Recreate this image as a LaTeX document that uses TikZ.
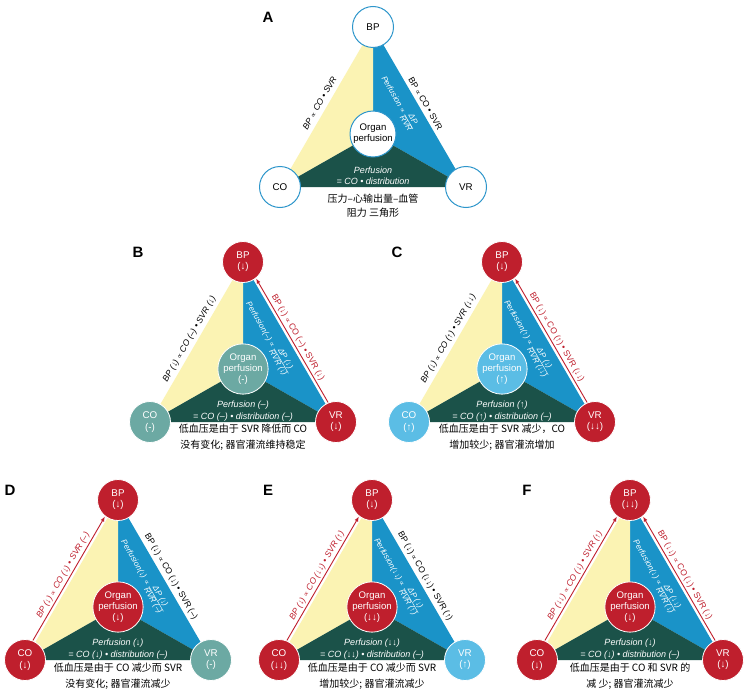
\documentclass[tikz,border=0pt]{standalone}
\usepackage{fontspec}
\setmainfont{Liberation Sans}
\newfontfamily\cjk{Noto Sans CJK SC}
\newfontfamily\djv{DejaVu Sans}
\usetikzlibrary{arrows.meta}
\definecolor{yel}{HTML}{FBF3B3}
\definecolor{blu}{HTML}{1A93C8}
\definecolor{grn}{HTML}{1B5249}
\definecolor{redc}{HTML}{BF1F2D}
\definecolor{tealc}{HTML}{6CA9A3}
\definecolor{lblu}{HTML}{5BBDE5}
\definecolor{ring}{HTML}{2E96CB}
\newcommand{\pr}{{\djv\fontsize{7}{8}\selectfont ∝}}
\newcommand{\frc}[2]{{\renewcommand{\arraystretch}{0.85}\begin{tabular}[c]{@{}c@{}}#1\\\hline #2\end{tabular}}}
\newcommand{\basetri}{%
  \fill[blu] (0,0) -- (0,107) -- (93,160) -- cycle;
  \fill[yel] (0,0) -- (-93,160) -- (0,107) -- cycle;
  \fill[grn] (-93,160) -- (0,107) -- (93,160) -- cycle;
}
\tikzset{
  vtx/.style={circle, minimum size=41pt, inner sep=0pt, align=center, font=\fontsize{9.8}{11.2}\selectfont, draw=white, line width=0.8pt},
  wv/.style={vtx, fill=white, draw=ring, line width=1pt},
  rv/.style={vtx, fill=redc, text=white},
  tv/.style={vtx, fill=tealc, text=white},
  bv/.style={vtx, fill=lblu, text=white},
  orgc/.style={minimum size=46pt, font=\fontsize{9.6}{11.2}\selectfont},
  lblL/.style={inner sep=0pt, rotate=60, font=\itshape\fontsize{8.6}{9.5}\selectfont},
  lblR/.style={inner sep=0pt, rotate=-60, font=\fontsize{8.6}{9.5}\selectfont},
  redarr/.style={draw=redc, line width=0.9pt, -{Latex[length=5pt,width=4pt]}},
  gtxt/.style={text=white, align=center, font=\itshape\fontsize{9}{11.5}\selectfont},
  frm/.style={text=white, rotate=-60, inner sep=0pt, font=\itshape\fontsize{8}{9}\selectfont},
  captxt/.style={align=center, font=\cjk\fontsize{10}{16.5}\selectfont},
  plet/.style={font=\bfseries\fontsize{15}{15}\selectfont}
}
\begin{document}
\begin{tikzpicture}[x=1pt,y=-1pt]
\fill[white] (0,0) rectangle (752,693);
\useasboundingbox (0,0) rectangle (752,693);
% ---------- A ----------
\node[plet] (letA) at (268,17) {A};
\begin{scope}[shift={(373,27)}]
\basetri
\node[wv] (aBP) at (0,0) {BP};
\node[wv] (aCO) at (-93,160) {CO};
\node[wv] (aVR) at (93,160) {VR};
\node[wv,orgc] (aOR) at (0,107) {Organ\\perfusion};
\node[lblL] (aL) at (-53.4,76) {BP \pr\ CO • SVR};
\node[lblR] (aR) at (52.5,76.5) {BP \pr\ CO • SVR};
\node[frm] (aF) at (25,76) {Perfusion \pr\ \frc{ΔP}{RVR}};
\node[gtxt] (aG) at (0,149) {Perfusion\\= CO • distribution};
\node[captxt, font=\cjk\fontsize{10}{14}\selectfont] (aC) at (0,179) {压力–心输出量–血管\\阻力 三角形};
\end{scope}
% ---------- B ----------
\node[plet] (letB) at (138,252) {B};
\begin{scope}[shift={(243,262)}]
\basetri
\node[rv] (bBP) at (0,0) {BP\\(↓)};
\node[tv] (bCO) at (-93,160) {CO\\(-)};
\node[rv] (bVR) at (93,160) {VR\\(↓)};
\node[tv,orgc] (bOR) at (0,107) {Organ\\perfusion\\(-)};
\draw[redarr, transform canvas={shift={(2.6pt,1.5pt)}}] (bVR) -- (bBP);
\node[lblL] (bL) at (-53.4,77) {BP (↓) \pr\ CO (–) • SVR (↓)};
\node[lblR, text=redc] (bR) at (54.8,75.5) {BP (↓) \pr\ CO (–) • SVR (↓)};
\node[frm] (bF) at (25,76) {Perfusion(–) \pr\ \frc{ΔP (↓)}{RVR (↓)}};
\node[gtxt] (bG) at (0,149) {Perfusion (–)\\= CO (–) • distribution (–)};
\node[captxt] (bC) at (0,175) {低血压是由于 SVR 降低而 CO\\没有变化; 器官灌流维持稳定};
\end{scope}
% ---------- C ----------
\node[plet] (letC) at (397,252) {C};
\begin{scope}[shift={(502,262)}]
\basetri
\node[rv] (cBP) at (0,0) {BP\\(↓)};
\node[bv] (cCO) at (-93,160) {CO\\(↑)};
\node[rv] (cVR) at (93,160) {VR\\(↓↓)};
\node[bv,orgc] (cOR) at (0,107) {Organ\\perfusion\\(↑)};
\draw[redarr, transform canvas={shift={(2.6pt,1.5pt)}}] (cVR) -- (cBP);
\node[lblL] (cL) at (-53.4,77) {BP (↓) \pr\ CO (↑) • SVR (↓↓)};
\node[lblR, text=redc] (cR) at (54.8,75.5) {BP (↓) \pr\ CO (↑) • SVR (↓↓)};
\node[frm] (cF) at (25,76) {Perfusion(↑) \pr\ \frc{ΔP (↓)}{RVR (↓↓)}};
\node[gtxt] (cG) at (0,149) {Perfusion (↑)\\= CO (↑) • distribution (–)};
\node[captxt] (cC) at (0,175) {低血压是由于 SVR 减少，CO\\增加较少; 器官灌流增加};
\end{scope}
% ---------- D ----------
\node[plet] (letD) at (10,490) {D};
\begin{scope}[shift={(118,500)}]
\basetri
\node[rv] (dBP) at (0,0) {BP\\(↓)};
\node[rv] (dCO) at (-93,160) {CO\\(↓)};
\node[tv] (dVR) at (93,160) {VR\\(-)};
\node[rv,orgc] (dOR) at (0,107) {Organ\\perfusion\\(↓)};
\draw[redarr, transform canvas={shift={(-2.6pt,1.5pt)}}] (dCO) -- (dBP);
\node[lblL, text=redc] (dL) at (-54.8,75.5) {BP (↓) \pr\ CO (↓) • SVR (–)};
\node[lblR] (dR) at (53,76.5) {BP (↓) \pr\ CO (↓) • SVR (–)};
\node[frm] (dF) at (25,76) {Perfusion(↓) \pr\ \frc{ΔP (↓)}{RVR (–)}};
\node[gtxt] (dG) at (0,149) {Perfusion (↓)\\= CO (↓) • distribution (–)};
\node[captxt] (dC) at (0,176) {低血压是由于 CO 减少而 SVR\\没有变化; 器官灌流减少};
\end{scope}
% ---------- E ----------
\node[plet] (letE) at (268,490) {E};
\begin{scope}[shift={(372,500)}]
\basetri
\node[rv] (eBP) at (0,0) {BP\\(↓)};
\node[rv] (eCO) at (-93,160) {CO\\(↓↓)};
\node[bv] (eVR) at (93,160) {VR\\(↑)};
\node[rv,orgc] (eOR) at (0,107) {Organ\\perfusion\\(↓↓)};
\draw[redarr, transform canvas={shift={(-2.6pt,1.5pt)}}] (eCO) -- (eBP);
\node[lblL, text=redc] (eL) at (-54.8,75.5) {BP (↓) \pr\ CO (↓↓) • SVR (↑)};
\node[lblR] (eR) at (53,76.5) {BP (↓) \pr\ CO (↓↓) • SVR (↑)};
\node[frm] (eF) at (25,76) {Perfusion(↓↓) \pr\ \frc{ΔP (↓)}{RVR (↑)}};
\node[gtxt] (eG) at (0,149) {Perfusion (↓↓)\\= CO (↓↓) • distribution (–)};
\node[captxt] (eC) at (0,176) {低血压是由于 CO 减少而 SVR\\增加较少; 器官灌流减少};
\end{scope}
% ---------- F ----------
\node[plet] (letF) at (527,490) {F};
\begin{scope}[shift={(630,500)}]
\basetri
\node[rv] (fBP) at (0,0) {BP\\(↓↓)};
\node[rv] (fCO) at (-93,160) {CO\\(↓)};
\node[rv] (fVR) at (93,160) {VR\\(↓)};
\node[rv,orgc] (fOR) at (0,107) {Organ\\perfusion\\(↓)};
\draw[redarr, transform canvas={shift={(-2.6pt,1.5pt)}}] (fCO) -- (fBP);
\draw[redarr, transform canvas={shift={(2.6pt,1.5pt)}}] (fVR) -- (fBP);
\node[lblL, text=redc] (fL) at (-54.8,75.5) {BP (↓↓) \pr\ CO (↓) • SVR (↑)};
\node[lblR, text=redc] (fR) at (54.8,75.5) {BP (↓↓) \pr\ CO (↓) • SVR (↓)};
\node[frm] (fF) at (25,76) {Perfusion(↓) \pr\ \frc{ΔP (↓↓)}{RVR (↓)}};
\node[gtxt] (fG) at (0,149) {Perfusion (↓)\\= CO (↓) • distribution (–)};
\node[captxt] (fC) at (0,176) {低血压是由于 CO 和 SVR 的\\减 少; 器官灌流减少};
\end{scope}
\end{tikzpicture}
\end{document}
